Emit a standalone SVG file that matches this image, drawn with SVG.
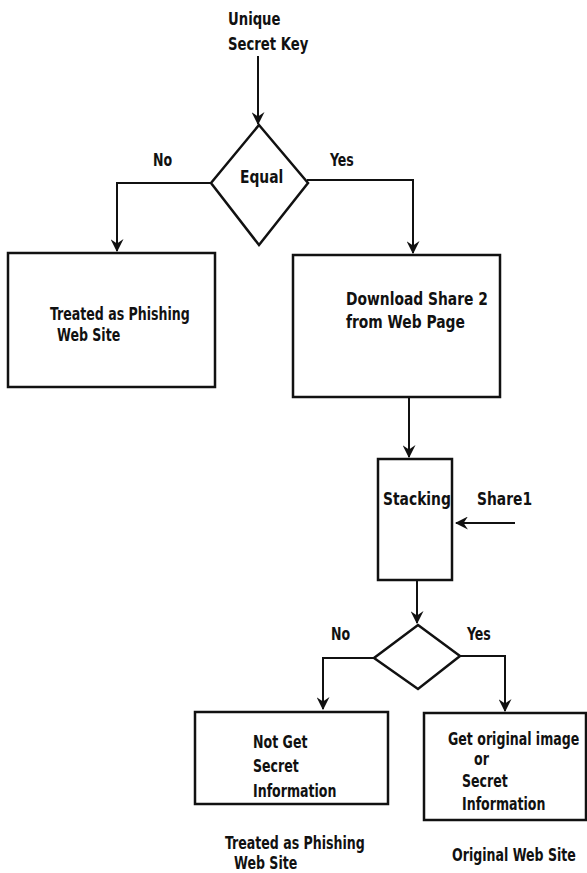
<svg xmlns="http://www.w3.org/2000/svg" width="587" height="873" viewBox="0 0 587 873">
<defs>
<style>
.t{font-family:"DejaVu Sans Condensed","DejaVu Sans",sans-serif;font-weight:bold;font-size:14px;fill:#111;}
.l{font-size:15.4px;}
.s{fill:#fff;stroke:#111;stroke-width:2.5;}
.c{fill:none;stroke:#111;stroke-width:2;}
</style>
<marker id="ah" viewBox="0 0 12 12" refX="11" refY="6" markerWidth="13" markerHeight="13" markerUnits="userSpaceOnUse" orient="auto">
<path d="M0,0 L12,6 L0,12 L4,6 Z" fill="#111"/>
</marker>
</defs>
<rect width="587" height="873" fill="#fff"/>
<g id="connectors">
<line class="c" x1="258" y1="56" x2="258" y2="124" marker-end="url(#ah)"/>
<polyline class="c" points="211,183 117,183 117,251" marker-end="url(#ah)"/>
<polyline class="c" points="307,180 413,180 413,253" marker-end="url(#ah)"/>
<line class="c" x1="409" y1="398" x2="409" y2="457" marker-end="url(#ah)"/>
<line class="c" x1="515" y1="523" x2="456" y2="523" marker-end="url(#ah)"/>
<line class="c" x1="417" y1="580" x2="417" y2="623" marker-end="url(#ah)"/>
<polyline class="c" points="374,658 323,658 323,709" marker-end="url(#ah)"/>
<polyline class="c" points="460,656 505,656 505,711" marker-end="url(#ah)"/>
<text class="t" transform="translate(153,166) scale(1,1.25)">No</text>
<text class="t" transform="translate(330,166) scale(1,1.25)">Yes</text>
<text class="t" transform="translate(331,640) scale(1,1.25)">No</text>
<text class="t" transform="translate(467,640) scale(1,1.25)">Yes</text>
</g>
<g id="start">
<text class="t" style="font-size:14.7px" transform="translate(228,25) scale(1,1.2)">Unique</text>
<text class="t" style="font-size:14.7px" transform="translate(228,50) scale(1,1.2)">Secret Key</text>
</g>
<g id="equal">
<polygon class="s" points="259,125 308,183 259,245 211,183"/>
<text class="t l" transform="translate(240,183) scale(1,1.18)">Equal</text>
</g>
<g id="phishing">
<rect class="s" x="8" y="253" width="207" height="134"/>
<text class="t" transform="translate(50,320) scale(1,1.25)">Treated as Phishing</text>
<text class="t" transform="translate(57,341) scale(1,1.25)">Web Site</text>
</g>
<g id="download">
<rect class="s" x="293" y="255" width="207" height="142"/>
<text class="t l" transform="translate(346,305) scale(1,1.18)">Download Share 2</text>
<text class="t l" transform="translate(346,328) scale(1,1.18)">from Web Page</text>
</g>
<g id="stacking">
<rect class="s" x="378" y="459" width="74" height="121"/>
<text class="t l" transform="translate(383,505) scale(1,1.18)">Stacking</text>
</g>
<g id="share1">
<text class="t l" transform="translate(477,505) scale(1,1.18)">Share1</text>
</g>
<g id="decision2">
<polygon class="s" points="418,625 460,656 418,689 374,658"/>
</g>
<g id="notget">
<rect class="s" x="195" y="712" width="193" height="92"/>
<text class="t" transform="translate(253,748) scale(1,1.25)">Not Get</text>
<text class="t" transform="translate(253,772) scale(1,1.25)">Secret</text>
<text class="t" transform="translate(253,797) scale(1,1.25)">Information</text>
</g>
<g id="getoriginal">
<rect class="s" x="424" y="713" width="162" height="107"/>
<text class="t" transform="translate(448,745) scale(1,1.25)">Get original image</text>
<text class="t" transform="translate(474,765) scale(1,1.25)">or</text>
<text class="t" transform="translate(462,787) scale(1,1.25)">Secret</text>
<text class="t" transform="translate(462,810) scale(1,1.25)">Information</text>
</g>
<g id="phishing-label">
<text class="t" transform="translate(225,849) scale(1,1.25)">Treated as Phishing</text>
<text class="t" transform="translate(234,869) scale(1,1.2)">Web Site</text>
</g>
<g id="original-label">
<text class="t" transform="translate(452,861) scale(1,1.25)">Original Web Site</text>
</g>
</svg>
